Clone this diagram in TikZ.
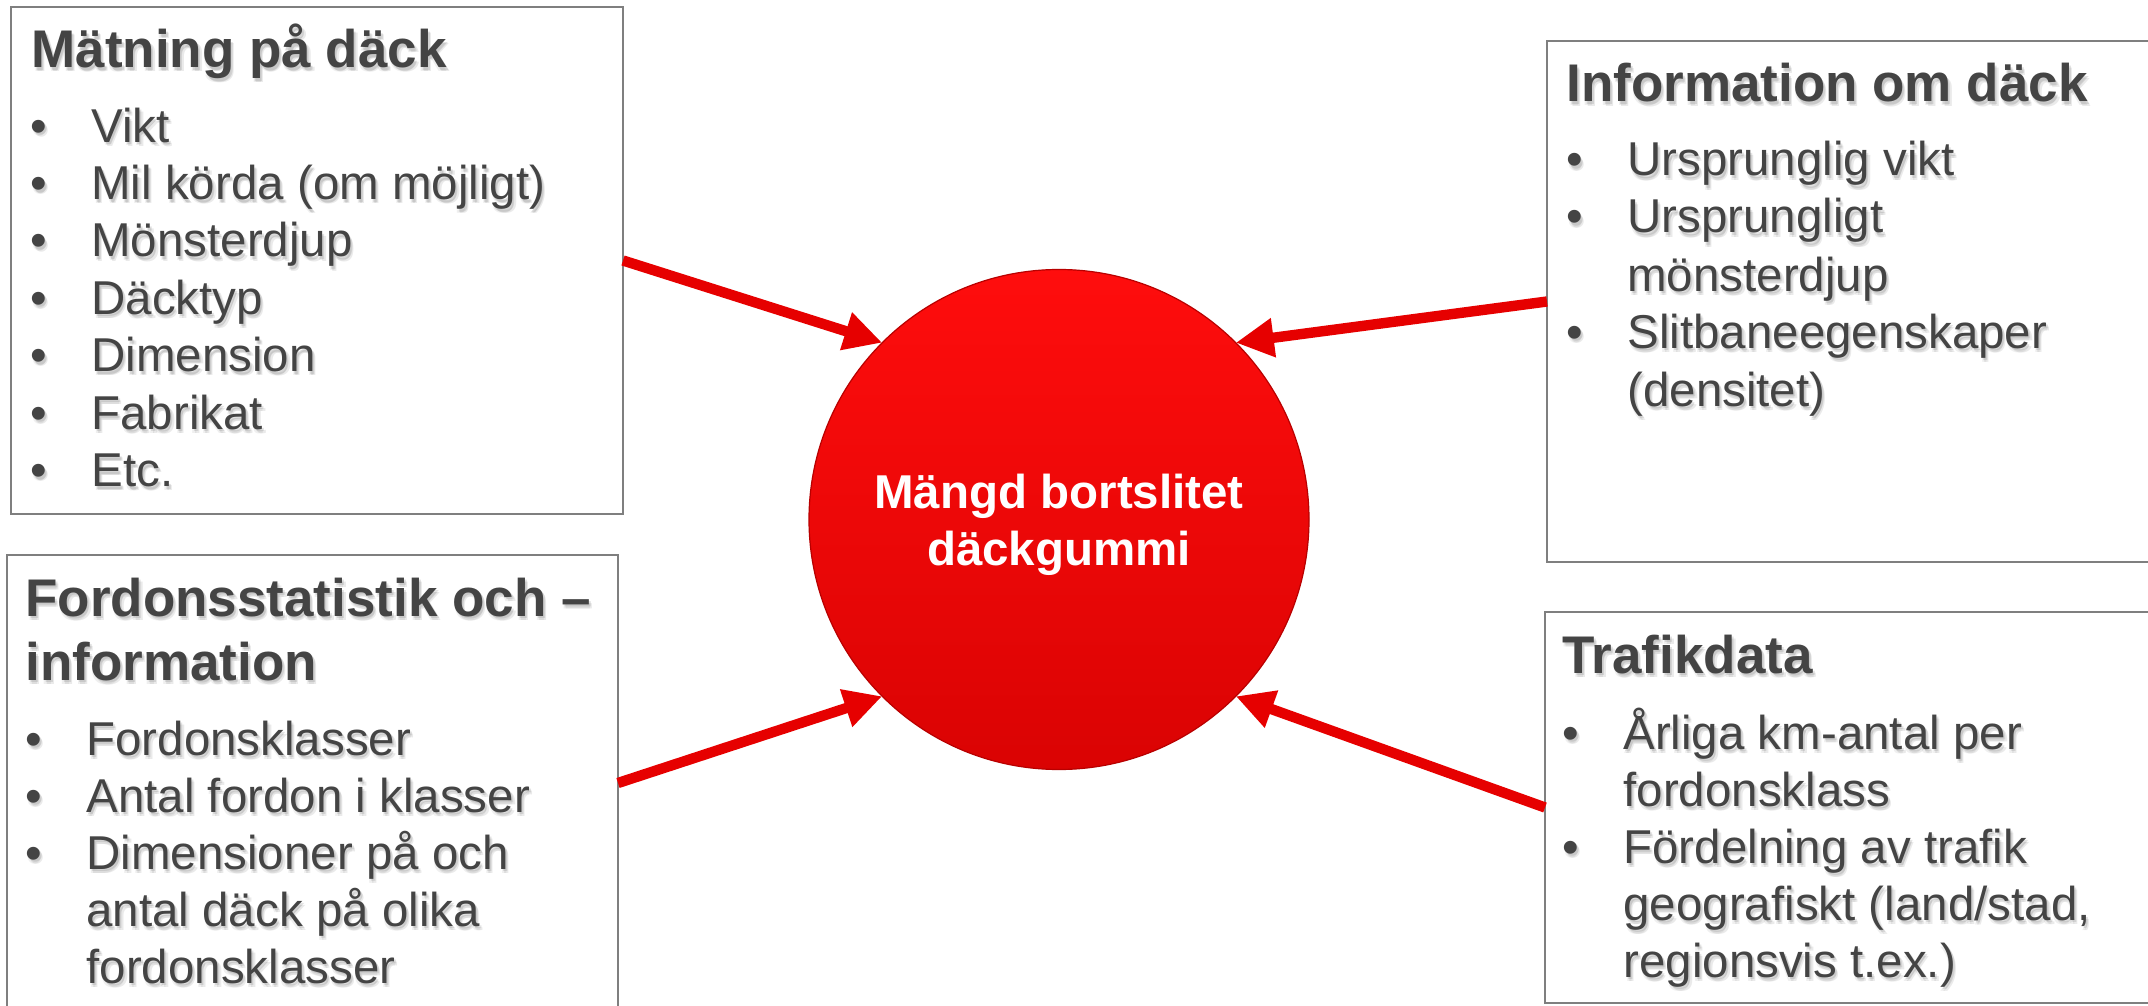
\documentclass[tikz,border=0pt]{standalone}
\usepackage{fontspec}
\setmainfont{Liberation Sans}
\usetikzlibrary{arrows.meta}
\definecolor{txtgray}{HTML}{444444}
\definecolor{shgray}{HTML}{808080}
\definecolor{boxgray}{HTML}{7F7F7F}
\definecolor{arrred}{HTML}{E60000}
\definecolor{ctop}{HTML}{FF0D0D}
\definecolor{cbot}{HTML}{DA0303}
\definecolor{cedge}{HTML}{B80000}
\tikzset{
  box/.style={draw=boxgray, line width=1pt, fill=white, rectangle, inner sep=0pt, outer sep=0pt},
  ttl/.style={font=\fontsize{26.5}{31.8}\selectfont\bfseries, text=txtgray, inner sep=0pt, anchor=base west},
  itm/.style={font=\fontsize{23.75}{28.5}\selectfont, text=txtgray, inner sep=0pt, anchor=base west},
  shdA/.style={text=shgray, opacity=0.22, xshift=1.0pt, yshift=-1.3pt},
  shdB/.style={text=shgray, opacity=0.16, xshift=1.7pt, yshift=-2.1pt},
  shdC/.style={text=shgray, opacity=0.12, xshift=0.4pt, yshift=-2.0pt},
  circ/.style={circle, minimum size=250pt, inner sep=0pt, outer sep=0pt, top color=ctop, bottom color=cbot, draw=cedge, line width=0.6pt},
  ctxt/.style={font=\fontsize{23.75}{28.5}\selectfont\bfseries, text=white, inner sep=0pt, anchor=base},
  arr/.style={draw=arrred, line width=5.2pt, -{Triangle[length=19pt,width=18.5pt]}},
}
% text line with soft shadow: name, style, position, text
\newcommand\tline[4]{%
  \node[#2, shdB] (#1sb) at (#3) {#4};
  \node[#2, shdC] (#1sc) at (#3) {#4};
  \node[#2, shdA] (#1sa) at (#3) {#4};
  \node[#2] (#1) at (#3) {#4};}
% bullet line: name, position (text start), text
\newcommand\bitem[3]{%
  \tline{#1}{itm, xshift=-30.5pt}{#2}{\makebox[30.5pt][l]{•}#3}}
\begin{document}
\begin{tikzpicture}[x=0.5pt, y=-0.5pt]
\useasboundingbox (0,0) rectangle (2148,1006);
\clip (0,0) rectangle (2148,1006);
\fill[white] (0,0) rectangle (2148,1006);

% boxes
\node[box, minimum width=306pt, minimum height=253.5pt] (b1) at (317,260.5) {};
\node[box, minimum width=305.5pt, minimum height=228pt] (b2) at (312.5,783) {};
\node[box, minimum width=311.5pt, minimum height=260.5pt] (b3) at (1858.5,301.5) {};
\node[box, minimum width=312.5pt, minimum height=195.5pt] (b4) at (1857.5,807.5) {};

% centre circle
\node[circ] (c) at (1059,519.5) {};
\node[ctxt] (ct1) at (1059,508) {Mängd bortslitet};
\node[ctxt] (ct2) at (1059,565) {däckgummi};

% arrows
\draw[arr] (b1.east) -- (c.135);
\draw[arr] (b3.west) -- (c.45);
\draw[arr] (b2.east) -- (c.225);
\draw[arr] (b4.west) -- (c.315);

% box 1
\tline{t1}{ttl}{31,67.6}{Mätning på däck}
\bitem{a1}{91,142}{Vikt}
\bitem{a2}{91,199.4}{Mil körda (om möjligt)}
\bitem{a3}{91,256.8}{Mönsterdjup}
\bitem{a4}{91,314.2}{Däcktyp}
\bitem{a5}{91,371.6}{Dimension}
\bitem{a6}{91,429}{Fabrikat}
\bitem{a7}{91,486.4}{Etc.}

% box 2
\tline{t2}{ttl}{25,616}{Fordonsstatistik och –}
\tline{t2b}{ttl}{25,680}{information}
\bitem{f1}{86,755}{Fordonsklasser}
\bitem{f2}{86,812}{Antal fordon i klasser}
\bitem{f3}{86,869}{Dimensioner på och}
\tline{f4}{itm}{86,926}{antal däck på olika}
\tline{f5}{itm}{86,983}{fordonsklasser}

% box 3
\tline{t3}{ttl}{1566,102}{Information om däck}
\bitem{i1}{1627,176}{Ursprunglig vikt}
\bitem{i2}{1627,233}{Ursprungligt}
\tline{i3}{itm}{1627,291}{mönsterdjup}
\bitem{i4}{1627,348}{Slitbaneegenskaper}
\tline{i5}{itm}{1627,406}{(densitet)}

% box 4
\tline{t4}{ttl}{1562,673}{Trafikdata}
\bitem{r1}{1623,749}{Årliga km-antal per}
\tline{r2}{itm}{1623,806}{fordonsklass}
\bitem{r3}{1623,863}{Fördelning av trafik}
\tline{r4}{itm}{1623,920}{geografiskt (land/stad,}
\tline{r5}{itm}{1623,977}{regionsvis t.ex.)}
\end{tikzpicture}
\end{document}
